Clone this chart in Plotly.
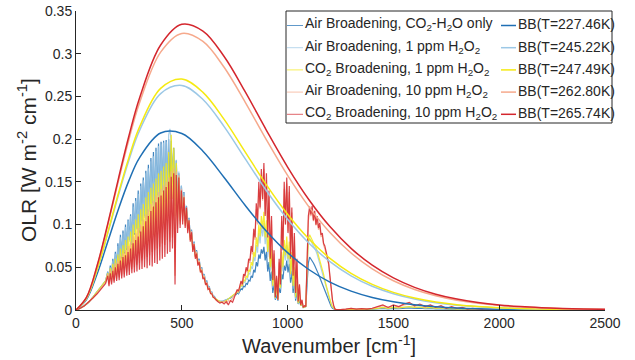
import plotly.graph_objects as go

# ---------------- data ----------------
# Blackbody curves (pi*B, W m-2 cm-1)
bb_nu = [0, 50, 100, 150, 200, 250, 300] + list(range(400, 2501, 100))
bb_temps = ["227.46", "245.22", "247.49", "262.80", "265.74"]
bb_1 = [0, .01257, .04241, .07979, .11769, .15141, .17818, .20724, .20664, .18584, .15510, .12230, .09223, .06711,
        .04741, .03268, .02207, .01464, .00957, .00617, .00393, .00248, .00155, .00096, .00059, .00036, .00022, .00013, .00008]
bb_2 = [0, .01372, .04688, .08949, .13404, .17529, .20988, .25332, .26282, .24643, .21472, .17694, .13954, .10621,
        .07852, .05665, .04004, .02781, .01902, .01284, .00856, .00565, .00370, .00240, .00154, .00099, .00063, .00040, .00025]
bb_3 = [0, .01387, .04746, .09074, .13615, .17838, .21402, .25943, .27040, .25477, .22311, .18480, .14650, .11210,
        .08332, .06044, .04295, .02999, .02062, .01399, .00938, .00623, .00410, .00267, .00173, .00111, .00071, .00045, .00029]
bb_4 = [0, .01485, .05134, .09918, .15049, .19952, .24240, .30181, .32376, .31441, .28412, .24304, .19909, .15748,
        .12102, .09079, .06672, .04819, .03427, .02406, .01669, .01146, .00779, .00526, .00352, .00234, .00155, .00102, .00067]
bb_5 = [0, .01504, .05208, .10081, .15327, .20363, .24794, .31017, .33442, .32652, .29672, .25527, .21034, .16736,
        .12938, .09764, .07220, .05245, .03754, .02651, .01850, .01278, .00875, .00594, .00400, .00268, .00178, .00118, .00077]

# Spectral OLR grid (cm-1)
spec_nu = (list(range(0, 141, 20)) + list(range(150, 655, 6)) + list(range(660, 751, 10))
           + list(range(756, 1237, 6)) + list(range(1250, 1951, 25)) + list(range(2000, 2501, 100)))

# Air broadening, CO2-H2O only
olr_1 = [0, .002, .005, .009, .015, .021, .027, .034,
         .045, .036, .052, .041, .060, .044, .068, .050, .078, .055,
         .088, .060, .093, .066, .100, .070, .106, .082, .112, .076,
         .125, .088, .131, .095, .140, .090, .148, .104, .155, .110,
         .163, .102, .170, .118, .178, .125, .185, .120, .190, .134,
         .195, .128, .197, .140, .198, .126, .199, .145, .200, .130,
         .198, .150, .190, .122, .175, .118, .160, .112, .145, .118,
         .138, .105, .122, .098, .108, .085, .094, .072, .080, .064,
         .070, .056, .060, .048, .050, .040, .042, .033, .034, .027,
         .027, .021, .021, .016, .016,
         .013, .011, .010, .010, .011, .012, .013, .014, .016, .018,
         .018, .020, .019, .023, .025, .024, .028, .027, .031, .030,
         .035, .034, .040, .038, .047, .044, .056, .051, .065, .060,
         .071, .066, .074, .058, .068, .045, .056, .034, .045, .020,
         .030, .012, .018, .011, .026, .020, .042, .036, .052, .046,
         .058, .044, .054, .032, .046, .020, .034, .011, .022, .007,
         .012, .005, .007, .003, .004, .004, .030, .055, .062, .060,
         .057, .055, .052, .049, .046, .042, .038, .034, .030, .026,
         .022, .018, .014, .011, .007, .004, .002, .001, .0006, .0003,
         .0002,
         .0002, .0004, .0007, .0005, .0005, .0005, .0008, .0012, .0018, .0012,
         .0018, .0015, .0021, .0024, .0018, .0021, .0015, .0018, .0012, .0015,
         .0009, .0012, .0006, .0009, .0005, .0006, .0003, .0002, .0001,
         .0001, 0, 0, 0, 0, 0]

# Air broadening, 1 ppm H2O2
olr_2 = [0, .002, .005, .009, .015, .021, .027, .034,
         .044, .038, .050, .043, .058, .046, .066, .052, .075, .056,
         .085, .062, .090, .068, .097, .072, .104, .080, .110, .078,
         .121, .090, .128, .094, .136, .093, .145, .100, .152, .108,
         .160, .105, .166, .115, .174, .122, .180, .118, .186, .130,
         .192, .126, .194, .138, .196, .128, .197, .142, .205, .212,
         .196, .148, .188, .125, .176, .120, .162, .114, .146, .118,
         .137, .106, .121, .099, .107, .086, .093, .073, .079, .064,
         .069, .056, .059, .048, .049, .040, .041, .033, .033, .027,
         .026, .021, .020, .016, .015,
         .013, .011, .010, .010, .011, .012, .013, .015, .016, .018,
         .019, .021, .020, .026, .028, .027, .033, .032, .037, .036,
         .043, .042, .051, .048, .062, .057, .076, .067, .090, .078,
         .098, .086, .102, .077, .094, .062, .080, .046, .064, .026,
         .043, .013, .026, .011, .036, .024, .060, .045, .072, .058,
         .076, .054, .071, .038, .060, .025, .044, .013, .030, .007,
         .016, .005, .008, .003, .004, .004, .046, .078, .084, .081,
         .079, .076, .073, .069, .065, .060, .055, .050, .044, .039,
         .033, .027, .022, .016, .011, .006, .003, .002, .001, .0004,
         .0002,
         .0003, .0005, .0009, .0007, .0007, .0007, .0010, .0018, .0027, .0018,
         .0027, .0022, .0032, .0036, .0027, .0032, .0022, .0027, .0018, .0022,
         .0013, .0018, .0009, .0013, .0007, .0009, .0005, .0003, .0002,
         .0001, 0, 0, 0, 0, 0]

# CO2 broadening, 1 ppm H2O2
olr_3 = [0, .002, .005, .009, .015, .021, .027, .034,
         .043, .033, .049, .036, .054, .040, .060, .042, .065, .046,
         .072, .048, .076, .050, .082, .054, .086, .060, .092, .056,
         .100, .064, .106, .068, .112, .066, .118, .074, .124, .078,
         .132, .076, .138, .084, .143, .088, .148, .086, .154, .094,
         .160, .090, .163, .100, .168, .094, .172, .108, .185, .120,
         .205, .130, .190, .110, .172, .108, .156, .104, .140, .110,
         .132, .100, .118, .094, .104, .082, .090, .070, .077, .062,
         .067, .054, .057, .046, .047, .038, .039, .031, .031, .025,
         .025, .020, .019, .015, .014,
         .013, .011, .010, .009, .010, .011, .013, .015, .017, .019,
         .019, .022, .021, .027, .030, .028, .035, .034, .040, .038,
         .047, .045, .056, .052, .068, .062, .085, .074, .100, .086,
         .110, .095, .115, .085, .105, .068, .090, .050, .072, .028,
         .048, .014, .028, .012, .040, .026, .068, .050, .082, .064,
         .086, .060, .080, .042, .068, .028, .050, .015, .034, .008,
         .018, .005, .009, .003, .004, .004, .050, .082, .088, .085,
         .083, .080, .077, .073, .069, .064, .058, .053, .047, .042,
         .035, .029, .024, .018, .012, .007, .004, .002, .001, .0004,
         .0002,
         .0003, .0006, .0010, .0008, .0008, .0008, .0012, .0020, .0030, .0020,
         .0030, .0025, .0035, .0040, .0030, .0035, .0025, .0030, .0020, .0025,
         .0015, .0020, .0010, .0015, .0008, .0010, .0005, .0003, .0002,
         .0001, 0, 0, 0, 0, 0]

# Air broadening, 10 ppm H2O2
olr_4 = [0, .002, .005, .009, .014, .020, .026, .032,
         .042, .030, .046, .032, .050, .034, .055, .036, .058, .038,
         .063, .040, .066, .042, .070, .044, .075, .046, .080, .048,
         .086, .050, .090, .053, .096, .055, .100, .058, .106, .060,
         .112, .062, .118, .064, .124, .068, .128, .070, .134, .072,
         .138, .074, .142, .078, .146, .076, .150, .082, .155, .080,
         .162, .085, .166, .040, .162, .095, .158, .100, .142, .104,
         .134, .098, .120, .092, .106, .082, .092, .070, .078, .062,
         .068, .054, .058, .046, .048, .038, .040, .031, .032, .025,
         .026, .020, .020, .015, .015,
         .012, .010, .009, .009, .010, .008, .011, .010, .014, .017,
         .019, .023, .021, .029, .033, .029, .040, .038, .048, .044,
         .058, .055, .072, .065, .090, .082, .118, .100, .142, .118,
         .158, .128, .165, .112, .152, .088, .134, .062, .105, .036,
         .066, .016, .038, .012, .056, .030, .104, .072, .142, .100,
         .148, .092, .138, .062, .114, .042, .086, .021, .057, .010,
         .029, .006, .011, .003, .005, .004, .056, .104, .116, .110,
         .117, .104, .111, .099, .105, .094, .098, .086, .087, .076,
         .072, .066, .060, .053, .038, .024, .011, .005, .001, .0005,
         .0003,
         .0005, .0010, .0018, .0010, .0012, .0010, .0020, .0035, .0050, .0030,
         .0050, .0035, .0060, .0070, .0045, .0060, .0035, .0050, .0030, .0040,
         .0020, .0035, .0015, .0025, .0010, .0015, .0008, .0004, .0003,
         .0001, 0, 0, 0, 0, 0]

# CO2 broadening, 10 ppm H2O2
olr_5 = [0, .002, .005, .009, .014, .019, .025, .031,
         .040, .028, .043, .030, .046, .032, .050, .034, .054, .035,
         .058, .037, .062, .038, .064, .040, .068, .041, .072, .043,
         .078, .044, .082, .045, .086, .047, .092, .048, .098, .050,
         .104, .049, .110, .052, .116, .051, .121, .055, .126, .054,
         .132, .058, .134, .060, .140, .062, .144, .066, .150, .068,
         .156, .072, .160, .030, .158, .090, .155, .096, .140, .100,
         .132, .096, .120, .090, .105, .080, .091, .068, .077, .060,
         .066, .052, .056, .044, .046, .036, .038, .030, .031, .024,
         .025, .019, .019, .015, .014,
         .012, .010, .008, .009, .007, .010, .006, .011, .009, .016,
         .020, .024, .022, .030, .034, .030, .042, .040, .050, .046,
         .060, .058, .075, .068, .095, .085, .125, .105, .150, .120,
         .165, .130, .172, .110, .160, .085, .140, .060, .110, .035,
         .070, .015, .040, .012, .060, .030, .110, .070, .150, .100,
         .155, .090, .145, .060, .120, .040, .090, .020, .060, .010,
         .030, .006, .012, .003, .005, .004, .060, .110, .121, .112,
         .122, .105, .116, .100, .110, .096, .102, .088, .090, .078,
         .075, .068, .062, .055, .040, .025, .012, .005, .001, .0005,
         .0003,
         .0005, .0010, .0020, .0010, .0015, .0010, .0020, .0040, .0060, .0030,
         .0060, .0040, .0070, .0090, .0050, .0070, .0040, .0060, .0030, .0050,
         .0020, .0040, .0020, .0030, .0010, .0020, .0010, .0005, .0003,
         .0001, 0, 0, 0, 0, 0]

spec_labels = ["Air Broadening, CO<sub>2</sub>-H<sub>2</sub>O only",
               "Air Broadening, 1 ppm H<sub>2</sub>O<sub>2</sub>",
               "CO<sub>2</sub> Broadening, 1 ppm H<sub>2</sub>O<sub>2</sub>",
               "Air Broadening, 10 ppm H<sub>2</sub>O<sub>2</sub>",
               "CO<sub>2</sub> Broadening, 10 ppm H<sub>2</sub>O<sub>2</sub>"]
x_ticks = [0, 500, 1000, 1500, 2000, 2500]
y_ticks = [0, 0.05, 0.1, 0.15, 0.2, 0.25, 0.3, 0.35]
y_ticktext = ["0", "0.05", "0.1", "0.15", "0.2", "0.25", "0.3", "0.35"]

# ---------------- style ----------------
colors = ["#1f6fb4", "#9cc8e6", "#f5ea12", "#f6a98c", "#d4262d"]
ink = "#262626"
FONT = "Liberation Sans, Arial, Helvetica, sans-serif"
W, H = 635, 360
ML, MR, MT, MB = 76, 30, 11, 50
PW, PH = W - ML - MR, H - MT - MB


def px(x):
    return (x - ML) / PW


def py(y):
    return (H - MB - y) / PH


fig = go.Figure()
spectra = [olr_1, olr_2, olr_3, olr_4, olr_5]
for vals, col in zip(spectra, colors):
    fig.add_trace(go.Scatter(x=spec_nu, y=vals, mode="lines",
                             line=dict(color=col, width=1.2), opacity=0.85,
                             showlegend=False, hoverinfo="skip"))
bbs = [bb_1, bb_2, bb_3, bb_4, bb_5]
for vals, col in zip(bbs, colors):
    fig.add_trace(go.Scatter(x=bb_nu, y=vals, mode="lines",
                             line=dict(color=col, width=1.5, shape="spline", smoothing=1.0),
                             showlegend=False, hoverinfo="skip"))

# ---------------- legend (drawn manually, two columns) ----------------
shapes = [dict(type="rect", xref="paper", yref="paper", x0=px(286), x1=px(612), y0=py(11), y1=py(123),
               line=dict(color=ink, width=1), fillcolor="white", layer="above")]
annotations = []
row_y = [25.5 + 22.2 * k for k in range(5)]
for k in range(5):
    yy = row_y[k]
    shapes.append(dict(type="line", xref="paper", yref="paper", x0=px(287), x1=px(303), y0=py(yy), y1=py(yy),
                       line=dict(color=colors[k], width=1), opacity=0.7, layer="above"))
    shapes.append(dict(type="line", xref="paper", yref="paper", x0=px(501), x1=px(516), y0=py(yy), y1=py(yy),
                       line=dict(color=colors[k], width=1.5), layer="above"))
    annotations.append(dict(xref="paper", yref="paper", x=px(303), y=py(yy - 1), xanchor="left", yanchor="middle",
                            text=spec_labels[k], showarrow=False, font=dict(family=FONT, size=14, color=ink)))
    annotations.append(dict(xref="paper", yref="paper", x=px(516), y=py(yy - 1), xanchor="left", yanchor="middle",
                            text="BB(T=%sK)" % bb_temps[k], showarrow=False,
                            font=dict(family=FONT, size=14, color=ink)))

annotations.append(dict(xref="paper", yref="paper", x=px(329), y=py(359), xanchor="center", yanchor="bottom",
                        text="Wavenumber [cm<sup>-1</sup>]", showarrow=False,
                        font=dict(family=FONT, size=20, color=ink)))
annotations.append(dict(xref="paper", yref="paper", x=px(27), y=py(160), xanchor="center", yanchor="middle",
                        text="OLR [W m<sup>-2</sup> cm<sup>-1</sup>]", showarrow=False, textangle=-90,
                        font=dict(family=FONT, size=21, color=ink)))

axis_common = dict(showgrid=False, zeroline=False, showline=True, linecolor=ink, linewidth=1,
                   ticks="inside", ticklen=5, tickcolor=ink, tickwidth=1,
                   tickfont=dict(family=FONT, size=14, color=ink), mirror=False)
fig.update_layout(
    width=W, height=H, margin=dict(l=ML, r=MR, t=MT, b=MB, autoexpand=False),
    paper_bgcolor="white", plot_bgcolor="white",
    xaxis=dict(range=[0, 2500], tickvals=x_ticks, **axis_common),
    yaxis=dict(range=[0, 0.35], tickvals=y_ticks, ticktext=y_ticktext, **axis_common),
    shapes=shapes, annotations=annotations, showlegend=False,
)
fig.write_html("out.html")
